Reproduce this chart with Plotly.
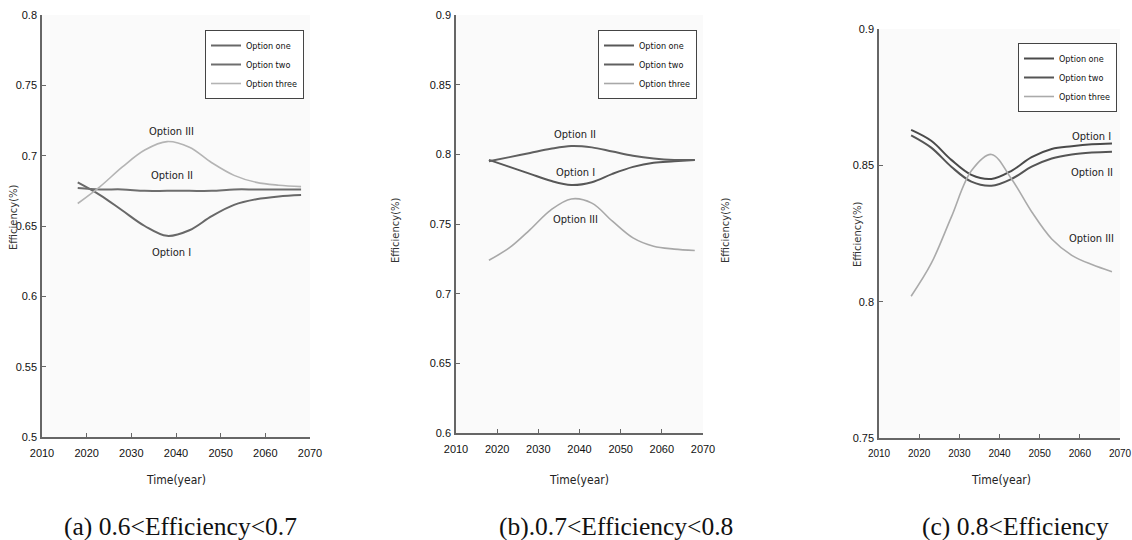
import plotly.graph_objects as go

# ---------------- data ----------------
years = [2018, 2023, 2028, 2033, 2038, 2043, 2048, 2053, 2058, 2063, 2068]
series_names = ["Option one", "Option two", "Option three"]

# panel (a) 0.6<Efficiency<0.7
a_one = [0.681, 0.672, 0.661, 0.650, 0.643, 0.647, 0.657, 0.665, 0.669, 0.671, 0.672]
a_two = [0.677, 0.676, 0.676, 0.675, 0.675, 0.675, 0.675, 0.676, 0.676, 0.676, 0.676]
a_three = [0.666, 0.678, 0.692, 0.704, 0.710, 0.706, 0.695, 0.686, 0.681, 0.679, 0.678]

# panel (b) 0.7<Efficiency<0.8
b_one = [0.796, 0.791, 0.786, 0.781, 0.778, 0.780, 0.786, 0.791, 0.794, 0.795, 0.796]
b_two = [0.795, 0.798, 0.801, 0.804, 0.806, 0.805, 0.802, 0.799, 0.797, 0.796, 0.796]
b_three = [0.724, 0.733, 0.746, 0.760, 0.768, 0.765, 0.752, 0.740, 0.734, 0.732, 0.731]

# panel (c) 0.8<Efficiency
c_one = [0.863, 0.859, 0.852, 0.8465, 0.845, 0.848, 0.853, 0.856, 0.857, 0.8577, 0.858]
c_two = [0.861, 0.8565, 0.8495, 0.844, 0.8425, 0.845, 0.8495, 0.8525, 0.854, 0.8547, 0.855]
c_three = [0.802, 0.814, 0.831, 0.848, 0.854, 0.845, 0.833, 0.823, 0.817, 0.8136, 0.811]

x_ticks = [2010, 2020, 2030, 2040, 2050, 2060, 2070]
a_yticks = [0.5, 0.55, 0.6, 0.65, 0.7, 0.75, 0.8]
a_ytext = ["0.5", "0.55", "0.6", "0.65", "0.7", "0.75", "0.8"]
b_yticks = [0.6, 0.65, 0.7, 0.75, 0.8, 0.85, 0.9]
b_ytext = ["0.6", "0.65", "0.7", "0.75", "0.8", "0.85", "0.9"]
c_yticks = [0.75, 0.8, 0.85, 0.9]
c_ytext = ["0.75", "0.8", "0.85", "0.9"]

captions = ["(a) 0.6<Efficiency<0.7", "(b).0.7<Efficiency<0.8", "(c) 0.8<Efficiency"]

# label positions (year, value, text)
a_labels = [(2039, 0.717, "Option III"), (2039, 0.686, "Option II"), (2039, 0.631, "Option I")]
b_labels = [(2039, 0.814, "Option II"), (2039, 0.787, "Option I"), (2039, 0.753, "Option III")]
c_labels = [(2063, 0.8605, "Option I"), (2063, 0.8475, "Option II"), (2063, 0.823, "Option III")]

# ---------------- layout helpers ----------------
W, H = 1132, 540
TICKFONT = "Liberation Sans, Arial, sans-serif"
NARROW = "Liberation Sans Narrow, DejaVu Sans Condensed, Arial Narrow, sans-serif"

def px(x):
    return x / W

def py(y):
    return 1 - y / H

panels = [
    dict(xd=(42, 310), yd=(15, 437), yr=(0.5, 0.8), yt=(a_yticks, a_ytext),
         data=(a_one, a_two, a_three), labels=a_labels,
         colors=("#686868", "#6e6e6e", "#b4b4b4"), xfs=11,
         legend=dict(x=px(304), y=py(30), xanchor="right")),
    dict(xd=(456, 703), yd=(15, 433), yr=(0.6, 0.9), yt=(b_yticks, b_ytext),
         data=(b_one, b_two, b_three), labels=b_labels,
         colors=("#585858", "#606060", "#a8a8a8"), xfs=11,
         legend=dict(x=px(697), y=py(30), xanchor="right")),
    dict(xd=(879, 1120), yd=(29, 438), yr=(0.75, 0.9), yt=(c_yticks, c_ytext),
         data=(c_one, c_two, c_three), labels=c_labels,
         colors=("#4a4a4a", "#555555", "#aaaaaa"), xfs=10,
         legend=dict(x=px(1117), y=py(43), xanchor="right")),
]

x_title_pos = [176, 579, 1001]
caption_pos = [180, 616, 1015]

fig = go.Figure()
layout = dict(
    width=W, height=H,
    margin=dict(l=0, r=0, t=0, b=0, autoexpand=False),
    paper_bgcolor="white", plot_bgcolor="#fafafa",
    showlegend=True,
    annotations=[],
)

for i, p in enumerate(panels):
    sfx = "" if i == 0 else str(i + 1)
    xa, ya = "xaxis" + sfx, "yaxis" + sfx
    xr, yr_ = "x" + sfx, "y" + sfx
    lg = "legend" + sfx
    widths = (2.0, 2.0, 1.6)
    for name, ys, col, w in zip(series_names, p["data"], p["colors"], widths):
        fig.add_trace(go.Scatter(
            x=years, y=ys, name=name, mode="lines",
            line=dict(color=col, width=w, shape="spline", smoothing=1.0),
            xaxis=xr, yaxis=yr_, legend=lg,
        ))
    axis_common = dict(
        showgrid=False, zeroline=False, showline=True, linecolor="#666666",
        linewidth=1.5, ticks="inside", ticklen=4, tickcolor="#666666",
        automargin=False, ticklabeloverflow="allow",
    )
    layout[xa] = dict(axis_common, domain=[px(p["xd"][0]), px(p["xd"][1])],
                      range=[2010, 2070], tickvals=x_ticks, anchor=yr_,
                      ticklabelstandoff=5,
                      tickfont=dict(family=TICKFONT, size=p["xfs"], color="#111"))
    layout[ya] = dict(axis_common, domain=[py(p["yd"][1]), py(p["yd"][0])],
                      range=list(p["yr"]), tickvals=p["yt"][0],
                      ticktext=p["yt"][1], anchor=xr, ticklabelstandoff=1,
                      tickfont=dict(family=TICKFONT, size=11, color="#111"))
    layout[lg] = dict(p["legend"], yanchor="top", bgcolor="white",
                      bordercolor="#444", borderwidth=1,
                      font=dict(family=NARROW, size=9, color="#111"),
                      itemwidth=30, tracegroupgap=0)
    # curve labels
    for (lx, ly, txt) in p["labels"]:
        layout["annotations"].append(dict(
            x=lx, y=ly, xref=xr, yref=yr_, text=txt, showarrow=False,
            xanchor="center", yanchor="middle",
            font=dict(family=NARROW, size=11, color="#222")))
    # x title
    layout["annotations"].append(dict(
        x=px(x_title_pos[i]), y=py(480), xref="paper", yref="paper",
        text="Time(year)", showarrow=False, xanchor="center", yanchor="middle",
        font=dict(family=NARROW, size=12, color="#222")))
    # caption
    layout["annotations"].append(dict(
        x=px(caption_pos[i]), y=py(526), xref="paper", yref="paper",
        text=captions[i], showarrow=False, xanchor="center", yanchor="middle",
        font=dict(family="Liberation Serif, Times New Roman, serif", size=25.5, color="#111")))

# y titles (including the stray one between panels b and c)
for (xx, yy) in [(13, 217), (395, 230), (725, 230), (857, 234)]:
    layout["annotations"].append(dict(
        x=px(xx), y=py(yy), xref="paper", yref="paper", text="Efficiency(%)",
        textangle=-90, showarrow=False, xanchor="center", yanchor="middle",
        font=dict(family="DejaVu Sans, sans-serif", size=10, color="#333")))

fig.update_layout(**layout)
fig.write_html(
    "out.html",
    config={"displayModeBar": False},
    post_script="document.body.style.margin='0';document.body.style.padding='0';"
                "document.body.style.overflow='hidden';",
)
